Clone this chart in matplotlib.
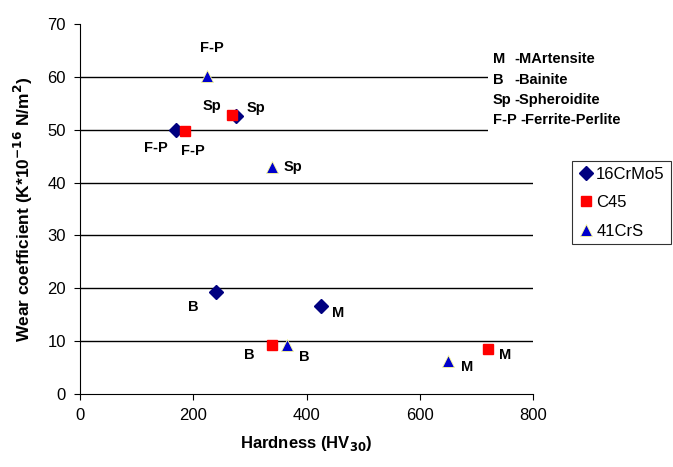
import matplotlib.pyplot as plt
from matplotlib.patches import Rectangle

plt.rcParams['font.family'] = ['Liberation Sans', 'DejaVu Sans']

# 16CrMo5
crmo_x = [170, 275, 240, 426]
crmo_y = [49.9, 52.6, 19.3, 16.6]
crmo_lab = ['F-P', 'Sp', 'B', 'M']
crmo_off = [(-20, -18), (20, 8), (-23, -15), (17, -7)]

# C45
c45_x = [185, 268, 339, 721]
c45_y = [49.7, 52.8, 9.2, 8.5]
c45_lab = ['F-P', 'Sp', 'B', 'M']
c45_off = [(8, -20), (-20, 9), (-23, -10), (17, -6)]

# 41CrS
crs_x = [224, 339, 366, 650]
crs_y = [60.1, 42.9, 9.2, 6.2]
crs_lab = ['F-P', 'Sp', 'B', 'M']
crs_off = [(5, 28), (21, 0), (17, -12), (19, -6)]

key_short = ['M', 'B', 'Sp', 'F-P']
key_long = ['-MArtensite', '-Bainite', '-Spheroidite', '-Ferrite-Perlite']
key_x2 = [514, 514, 514, 520]

fig = plt.figure(figsize=(6.73, 4.67), dpi=100)
ax = fig.add_axes([80/673, 73/467, 453/673, 370/467])

ax.plot(crmo_x, crmo_y, 'D', color='#000080', markersize=7, label='16CrMo5', zorder=3)
ax.plot(c45_x, c45_y, 's', color='#FF0000', markersize=7.5, label='C45', zorder=3)
ax.plot(crs_x, crs_y, '^', color='#0000CC', markeredgecolor='#FFFF99',
        markeredgewidth=0.6, markersize=9, label='41CrS', zorder=3)

for xs, ys, labs, offs in [(crmo_x, crmo_y, crmo_lab, crmo_off),
                           (c45_x, c45_y, c45_lab, c45_off),
                           (crs_x, crs_y, crs_lab, crs_off)]:
    for x, y, t, o in zip(xs, ys, labs, offs):
        ax.annotate(t, (x, y), xytext=o, textcoords='offset pixels',
                    ha='center', va='center', fontsize=10.5, fontweight='bold')

ax.set_xlim(0, 800)
ax.set_ylim(0, 70)
ax.set_xticks(range(0, 801, 200))
ax.set_yticks(range(0, 71, 10))
for v in range(10, 70, 10):
    ax.axhline(v, color='black', linewidth=1, zorder=1)
ax.spines['top'].set_visible(False)
ax.spines['right'].set_visible(False)
ax.tick_params(direction='out', length=4, labelsize=12, colors='black', pad=6)
ax.set_xlabel('Hardness (HV$_{\\mathbf{30}}$)', fontsize=12, fontweight='bold', labelpad=8)
ax.set_ylabel('Wear coefficient (K*10$^{\\mathbf{-16}}$ N/m$^{\\mathbf{2}}$)',
              fontsize=12.5, fontweight='bold')
ax.yaxis.set_label_coords(-0.1, 0.5)

# white block behind the key text
fig.patches.append(Rectangle((488/673, (467-132)/467), 185/673, 95/467,
                             transform=fig.transFigure, facecolor='white',
                             edgecolor='none', zorder=1))
for i, (s, l, x2) in enumerate(zip(key_short, key_long, key_x2)):
    yy = (467 - 59 - i*20.5) / 467
    fig.text(493/673, yy, s, fontsize=10.5, fontweight='bold', va='center', zorder=2)
    fig.text(x2/673, yy, l, fontsize=10.5, fontweight='bold', va='center', zorder=2)

leg = fig.legend(loc='upper left', bbox_to_anchor=(572/673, (467-161)/467),
                 frameon=True, fancybox=False, edgecolor='black', fontsize=12,
                 handletextpad=0.1, handlelength=1.0, borderpad=0.35,
                 labelspacing=0.8, borderaxespad=0)
leg.get_frame().set_linewidth(0.8)

fig.savefig('out.png', dpi=100)
